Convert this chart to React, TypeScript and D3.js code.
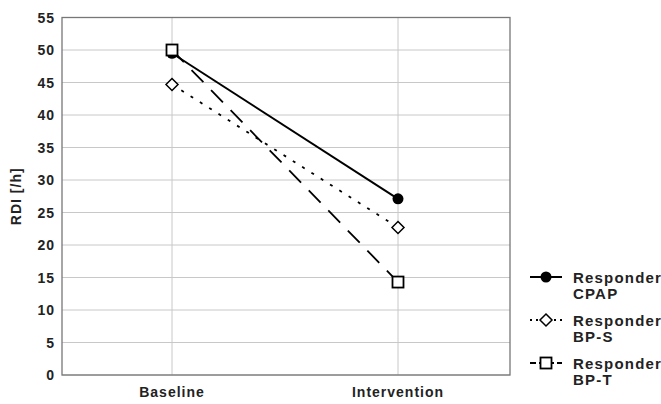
import React from "react";
import * as d3 from "d3";

const categories = ["Baseline", "Intervention"];
const cpap = [49.5, 27.1];
const bps = [44.7, 22.7];
const bpt = [50.0, 14.3];
const yTicks = [0, 5, 10, 15, 20, 25, 30, 35, 40, 45, 50, 55];
const legendLabels = [["Responder", "CPAP"], ["Responder", "BP-S"], ["Responder", "BP-T"]];

const W = 661, H = 404;
const left = 62, right = 510, top = 17.5, bottom = 375;

export default function App() {
  const xs = d3.scalePoint<string>().domain(categories).range([172, 398]);
  const y = d3.scaleLinear().domain([0, 55]).range([bottom, top]);
  const line = d3.line<number>().x((_, i) => xs(categories[i]) as number).y((v) => y(v));
  const font = "Arial, 'Liberation Sans', sans-serif";
  const series = [
    { vals: cpap, dash: "none", legDash: "none", marker: "circle" },
    { vals: bps, dash: "3,8", legDash: "2,4", marker: "diamond" },
    { vals: bpt, dash: "17,11", legDash: "6,3", marker: "square" },
  ];
  const marker = (type: string, cx: number, cy: number, key: string) => {
    if (type === "circle") return <circle key={key} cx={cx} cy={cy} r={5.5} fill="#000" />;
    if (type === "diamond")
      return <path key={key} d={`M${cx},${cy - 6}L${cx + 6},${cy}L${cx},${cy + 6}L${cx - 6},${cy}Z`} fill="#fff" stroke="#000" strokeWidth={1.5} />;
    return <rect key={key} x={cx - 5.5} y={cy - 5.5} width={11} height={11} fill="#fff" stroke="#000" strokeWidth={1.8} />;
  };
  return (
    <svg width={W} height={H} style={{ position: "absolute", left: 0, top: 0, background: "#fff" }} fontFamily={font}>
      {yTicks.map((t) => (
        <line key={"g" + t} x1={left} x2={right} y1={y(t)} y2={y(t)} stroke="#c8c8c8" strokeWidth={1} />
      ))}
      {categories.map((c) => (
        <line key={"v" + c} x1={xs(c)} x2={xs(c)} y1={top} y2={bottom} stroke="#c8c8c8" strokeWidth={1} />
      ))}
      <rect x={left} y={top} width={right - left} height={bottom - top} fill="none" stroke="#777" strokeWidth={1.3} />
      {yTicks.map((t) => (
        <text key={"t" + t} x={55} y={y(t) + 5} textAnchor="end" fontSize={14} fontWeight="bold" letterSpacing={1} fill="#222">{t}</text>
      ))}
      {categories.map((c) => (
        <text key={"c" + c} x={xs(c)} y={397} textAnchor="middle" fontSize={14} fontWeight="bold" letterSpacing={1} fill="#222">{c}</text>
      ))}
      <text transform={`translate(21,${y(27.5)}) rotate(-90)`} textAnchor="middle" fontSize={14} fontWeight="bold" letterSpacing={1} fill="#222">RDI [/h]</text>
      {series.map((s, i) => (
        <path key={"l" + i} d={line(s.vals) || ""} fill="none" stroke="#000" strokeWidth={i === 0 ? 2 : 1.8} strokeDasharray={s.dash} />
      ))}
      {series.map((s, i) => s.vals.map((v, j) => marker(s.marker, xs(categories[j]) as number, y(v), `m${i}-${j}`)))}
      {series.map((s, i) => {
        const ly = 277 + i * 43;
        return (
          <g key={"lg" + i}>
            <line x1={530} x2={562} y1={ly} y2={ly} stroke="#000" strokeWidth={i === 0 ? 2 : 1.8} strokeDasharray={s.legDash} />
            {marker(s.marker, 546, ly, "lm" + i)}
            <text x={573} y={ly + 6} fontSize={15} fontWeight="bold" letterSpacing={1.2} fill="#222">{legendLabels[i][0]}</text>
            <text x={573} y={ly + 22} fontSize={15} fontWeight="bold" letterSpacing={1.2} fill="#222">{legendLabels[i][1]}</text>
          </g>
        );
      })}
    </svg>
  );
}
